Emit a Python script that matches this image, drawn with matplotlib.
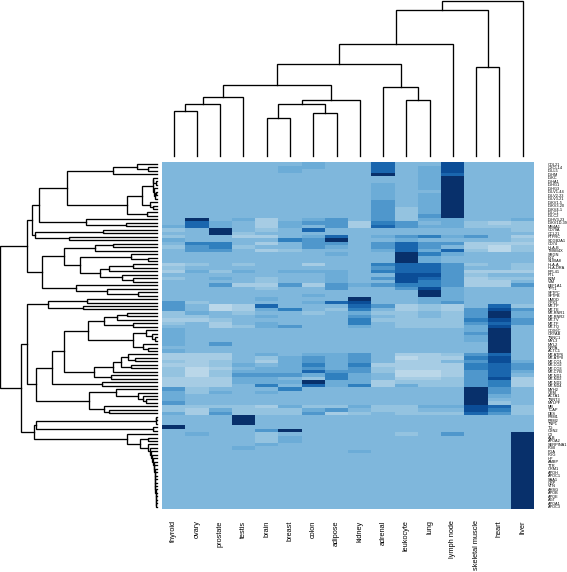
import matplotlib
matplotlib.use("Agg")
import numpy as np
import matplotlib.pyplot as plt
from matplotlib.colors import ListedColormap

plt.rcParams['font.family'] = ['Liberation Sans', 'DejaVu Sans']

W, H = 567, 572

col_labels = ['thyroid', 'ovary', 'prostate', 'testis', 'brain', 'breast', 'colon', 'adipose',
              'kidney', 'adrenal', 'leukocyte', 'lung', 'lymph node', 'skeletal muscle', 'heart', 'liver']

row_labels = ['COL21', 'CXCL14', 'IGLL5', 'IGHM', 'IGKC', 'IGHA1', 'IGHG1', 'IGHG3', 'IGLV1-44', 'IGLV2-23',
              'IGLV3-21', 'IGKV1-5', 'IGKV3-20', 'IGKV4-1', 'IGLC1', 'IGLC2', 'IGHV3-23', 'IGKV1D-39', 'MS4A1', 'CD79A',
              'CCL21', 'PTPRC', 'SCGB2A1', 'CD74', 'HLA-B', 'TMSB4X', 'SRGN', 'LYZ', 'S100A8', 'HLA-A',
              'HLA-DRA', 'RPL41', 'FTL', 'B2M', 'VIM', 'EEF1A1', 'TPT1', 'SFTPC', 'SFTPB', 'UMOD',
              'GPX3', 'MT-TP', 'MT-TE', 'MT-RNR1', 'MT-RNR2', 'MT-TV', 'MT-TF', 'MT-TQ', 'COX6C', 'CRYAB',
              'TNNC1', 'MYL3', 'MYL2', 'NPPA', 'ACTC1', 'MT-ATP6', 'MT-ATP8', 'MT-CO1', 'MT-CO2', 'MT-CO3',
              'MT-CYB', 'MT-ND1', 'MT-ND2', 'MT-ND3', 'MT-ND4', 'MYH2', 'CKM', 'ACTA1', 'TNNT3', 'MYLPF',
              'MB', 'TCAP', 'DES', 'PRM1', 'PRM2', 'TNP1', 'TG', 'CSN2', 'C3', 'ALB',
              'APOA2', 'SERPINA1', 'FGB', 'FGA', 'FGG', 'HP', 'AMBP', 'TTR', 'ORM1', 'APOH',
              'APOC1', 'SAA1', 'CRP', 'VTN', 'AHSG', 'APOB', 'APOE', 'AGT', 'APOA1', 'APOC3']

# one string per row, one digit per tissue, 0 palest .. 9 darkest
row_levels = [
    "33333343 37338333", "33333443 37348333", "33333433 37348333", "33333333 39347333",
    "33333333 33349333", "33333333 33349333", "33333333 34349333", "33333333 34349333",
    "33333333 34339333", "33333333 34349333", "33333333 34349333", "33333333 35349333",
    "33333333 35349333", "33333333 35249333", "33333333 35249333", "33333333 35259333",
    "39341345 35244334", "37431455 16534212", "47431435 17544222", "23932373 33333332",
    "33923333 33333333", "23311347 34564531", "43333659 33433332", "36631355 35755111",
    "25623354 35753102", "35531233 34747202", "33333334 33964333", "33333333 33943333",
    "33333333 33943333", "12323313 36775232", "23333333 35775332", "14243444 36775111",
    "33333334 33885233", "23432334 35875122", "33332334 33865113", "33511515 45665115",
    "33332335 33584333", "33333333 33394333", "33333343 33394333", "33334333 93344333",
    "52333347 83345333", "53017333 75121372", "53014632 63121585", "24323323 42232594",
    "22334333 53232594", "11233333 62222685", "23134333 63222575", "33124533 43222483",
    "43333333 33333493", "43333333 33333593", "43333333 33333493", "43333333 33333493",
    "43533333 33333393", "33333333 33333393", "43333333 33333393", "11134344 53112573",
    "11132454 53011683", "21231454 53113584", "11243464 61111675", "20134454 52111675",
    "20244475 52001574", "20255546 43001573", "11144326 43112581", "11144494 41222561",
    "11136374 61422561", "52333633 33333953", "42434333 33333953", "43333333 33333943",
    "43333333 33333933", "53333333 33333923", "22221422 42244872", "21422245 32233862",
    "41522251 23222752", "33393333 33333333", "33393333 33333333", "33393333 33333333",
    "93333333 33333333", "33335933 33333333", "34332333 33235339", "33332433 33333339",
    "33332433 33333339", "33334333 33333339", "33343333 33333339", "33333333 43333339",
    "33333333 33333339", "33333333 33333339", "33333333 33333339", "33333333 33333339",
    "33333333 33333339", "33333333 33333339", "33333333 33333339", "33333333 33333339",
    "33333333 33333339", "33333333 33333339", "33333333 33333339", "33333333 33333339",
    "33333333 33333339", "33333333 33333339", "33333333 33333339", "33333333 33333339",
]

level_colors = ['#BAD7E9', '#A6CCE4', '#94C3E0', '#7FB7DC', '#6CACD7', '#4F97CC',
                '#2F7FBE', '#1A66AE', '#0B4D97', '#08306B']

# trees are (merge height, left, right), a plain int is a leaf
col_tree = (155.5,
            (146,
             (112,
              (92,
               (71, (59, (52, (45, 0, 1), 2), 3),
                (56, (52, (38, 4, 5), (43.5, 6, 7)), 8)),
               (69.5, 9, (56, 10, 11))),
              12),
             (89, 13, 14)),
            15)

tail_heights = [445, 450, 453, 456, 459, 461, 462.5, 463.5, 464.5, 465, 465.5, 466,
                466.3, 466.6, 466.8, 467, 467.2, 467.4]
tail = 99
for row, height in zip(range(98, 80, -1), tail_heights[::-1]):
    tail = (height, row, tail)

first_block = (200, (340, (410, 0, (445, 1, 2)), 3),
               (382, (427, (458, (460, 4, (468, 5, 6)), (462, 7, (465, (468, 8, 9), 10))),
                      (450, 11, (460, 12, 13))),
                (440, 14, 15)))
second_block = (118, first_block, (257, 16, (378, 17, 18)))
third_block = (97, second_block, (104, (310, 19, 20), (207, 21, 22)))
fourth_block = (125,
                (192, (284, (340, 23, 24), 25),
                 (241, (393, 26, (445, 27, 28)),
                  (300, (328, (398, 29, 30), 31), (366, 32, (398, 33, 34))))),
                (229, 35, (320, 36, (415, 37, 38))))
upper_rows = (82, third_block, fourth_block)

mt_block = (192,
            (265, (313, (352, (380, 43, 44), 45), (400, 46, 47)),
             (400, (437, 48, (455, 49, (465, 50, 51))), (430, 52, (443, 53, 54)))),
            (282, (338, (362, (385, 55, (405, 56, 57)), (393, 58, 59)), 60), (333, 61, 62)))
mid_rows = (80, (145, (262, 39, 40), (250, 41, 42)),
            (107, (155, mt_block, (307, 63, 64)),
             (268, (348, 65, (415, 66, (430, 67, (437, 68, 69)))), (313, 70, (328, 71, 72)))))
low_rows = (103, (107, (467, (467, 73, 74), 75), (460, 76, 77)),
            (380, 78, (420, (445, 79, 80), tail)))
row_tree = (0, upper_rows, (62, mid_rows, low_rows))


def px_axes(fig, x0, y0, x1, y1):
    return fig.add_axes([x0 / W, 1 - y1 / H, (x1 - x0) / W, (y1 - y0) / H])


def draw_tree(ax, node, leaf_height, horizontal):
    # returns the leaf-axis position and the height of this node
    if not isinstance(node, tuple):
        return node + 0.5, leaf_height
    height, left, right = node
    p1, h1 = draw_tree(ax, left, leaf_height, horizontal)
    p2, h2 = draw_tree(ax, right, leaf_height, horizontal)
    ps = [p1, p1, p2, p2]
    hs = [h1, height, height, h2]
    if horizontal:
        ax.plot(hs, ps, color='black', lw=0.95, solid_joinstyle='miter', clip_on=False)
    else:
        ax.plot(ps, hs, color='black', lw=0.95, solid_joinstyle='miter', clip_on=False)
    return (p1 + p2) / 2, height


values = np.array([[int(c) for c in s.replace(' ', '')] for s in row_levels])
n_rows, n_cols = values.shape

fig = plt.figure(figsize=(W / 100, H / 100), dpi=100)

ax = px_axes(fig, 162, 162.3, 534.3, 508.5)
ax.pcolormesh(np.arange(n_cols + 1), np.arange(n_rows + 1), values,
              cmap=ListedColormap(level_colors), vmin=-0.5, vmax=9.5)
ax.set_xlim(0, n_cols)
ax.set_ylim(n_rows, 0)
for s in ax.spines.values():
    s.set_visible(False)
ax.set_xticks(np.arange(n_cols) + 0.5, col_labels, rotation=90, fontsize=5.3, va='top', ha='center')
ax.yaxis.tick_right()
ax.set_yticks(np.arange(n_rows) + 0.5, row_labels, fontsize=2.8)
ax.tick_params(axis='x', length=0, pad=8.6)
ax.tick_params(axis='y', length=0, pad=9.9)

# top dendrogram
top = px_axes(fig, 162, 0, 534.3, 156)
top.set_xlim(0, n_cols)
top.set_ylim(0, 156)
top.axis('off')
draw_tree(top, col_tree, 0, False)

# left dendrogram, heights are read from the left edge
left = px_axes(fig, 0, 162.3, 156.7, 508.5)
left.set_xlim(0, 470)
left.set_ylim(n_rows, 0)
left.axis('off')
draw_tree(left, row_tree, 470, True)

fig.savefig('out.png', dpi=100)
